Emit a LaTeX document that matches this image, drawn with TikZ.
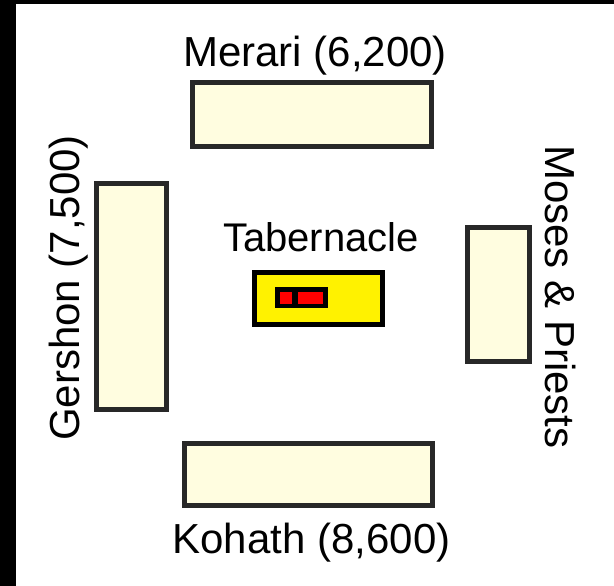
\documentclass[tikz,border=0pt]{standalone}
\usepackage{fontspec}
\setmainfont{Liberation Sans}
\usetikzlibrary{positioning}
\definecolor{campfill}{RGB}{255,253,224}
\definecolor{campline}{RGB}{40,40,40}
\tikzstyle{camp} = [draw=campline, fill=campfill, line width=5pt, inner sep=0pt]
\tikzstyle{tribe} = [font=\fontsize{42}{48}\selectfont, inner sep=0pt, anchor=base]
\tikzstyle{relic} = [fill=red, inner sep=0pt, minimum height=12pt]

\begin{document}
\begin{tikzpicture}[x=1pt, y=-1pt]
        % Frame: black band left and top
        \fill[black] (0,0) rectangle (614,586);
        \fill[white] (16,4) rectangle (614,586);
        \useasboundingbox (0,0) rectangle (614,586);

        % Camps round the tabernacle
        \node (merari) [camp, minimum width=239pt, minimum height=64pt] at (312,114.5) {};
        \node (gershon) [camp, minimum width=70pt, minimum height=226pt] at (131,296) {};
        \node (moses) [camp, minimum width=62pt, minimum height=134pt] at (498,294) {};
        \node (kohath) [camp, minimum width=248pt, minimum height=62pt] at (308,474) {};

        % Tabernacle with the ark inside
        \node (tab) [draw=black, fill=yellow, line width=5pt, inner sep=0pt,
            minimum width=128pt, minimum height=52pt] at (318,298) {};
        \node (ark) [fill=black, inner sep=0pt, minimum width=53pt, minimum height=21pt] at (301.5,297.5) {};
        \node (ark_a) [relic, minimum width=12pt] at (286,298) {};
        \node (ark_b) [relic, minimum width=25pt] at (310.5,298) {};

        % Labels
        \node (merari_label) [tribe] at (315,67) {Merari (6,200)};
        \node (kohath_label) [tribe] at (311.5,553) {Kohath (8,600)};
        \node (gershon_label) [tribe, rotate=90] at (79,288) {Gershon (7,500)};
        \node (moses_label) [tribe, rotate=-90] at (545,297) {Moses \& Priests};
        \node (tab_label) [tribe, font=\fontsize{40}{46}\selectfont] at (321,251) {Tabernacle};
    \end{tikzpicture}
\end{document}
